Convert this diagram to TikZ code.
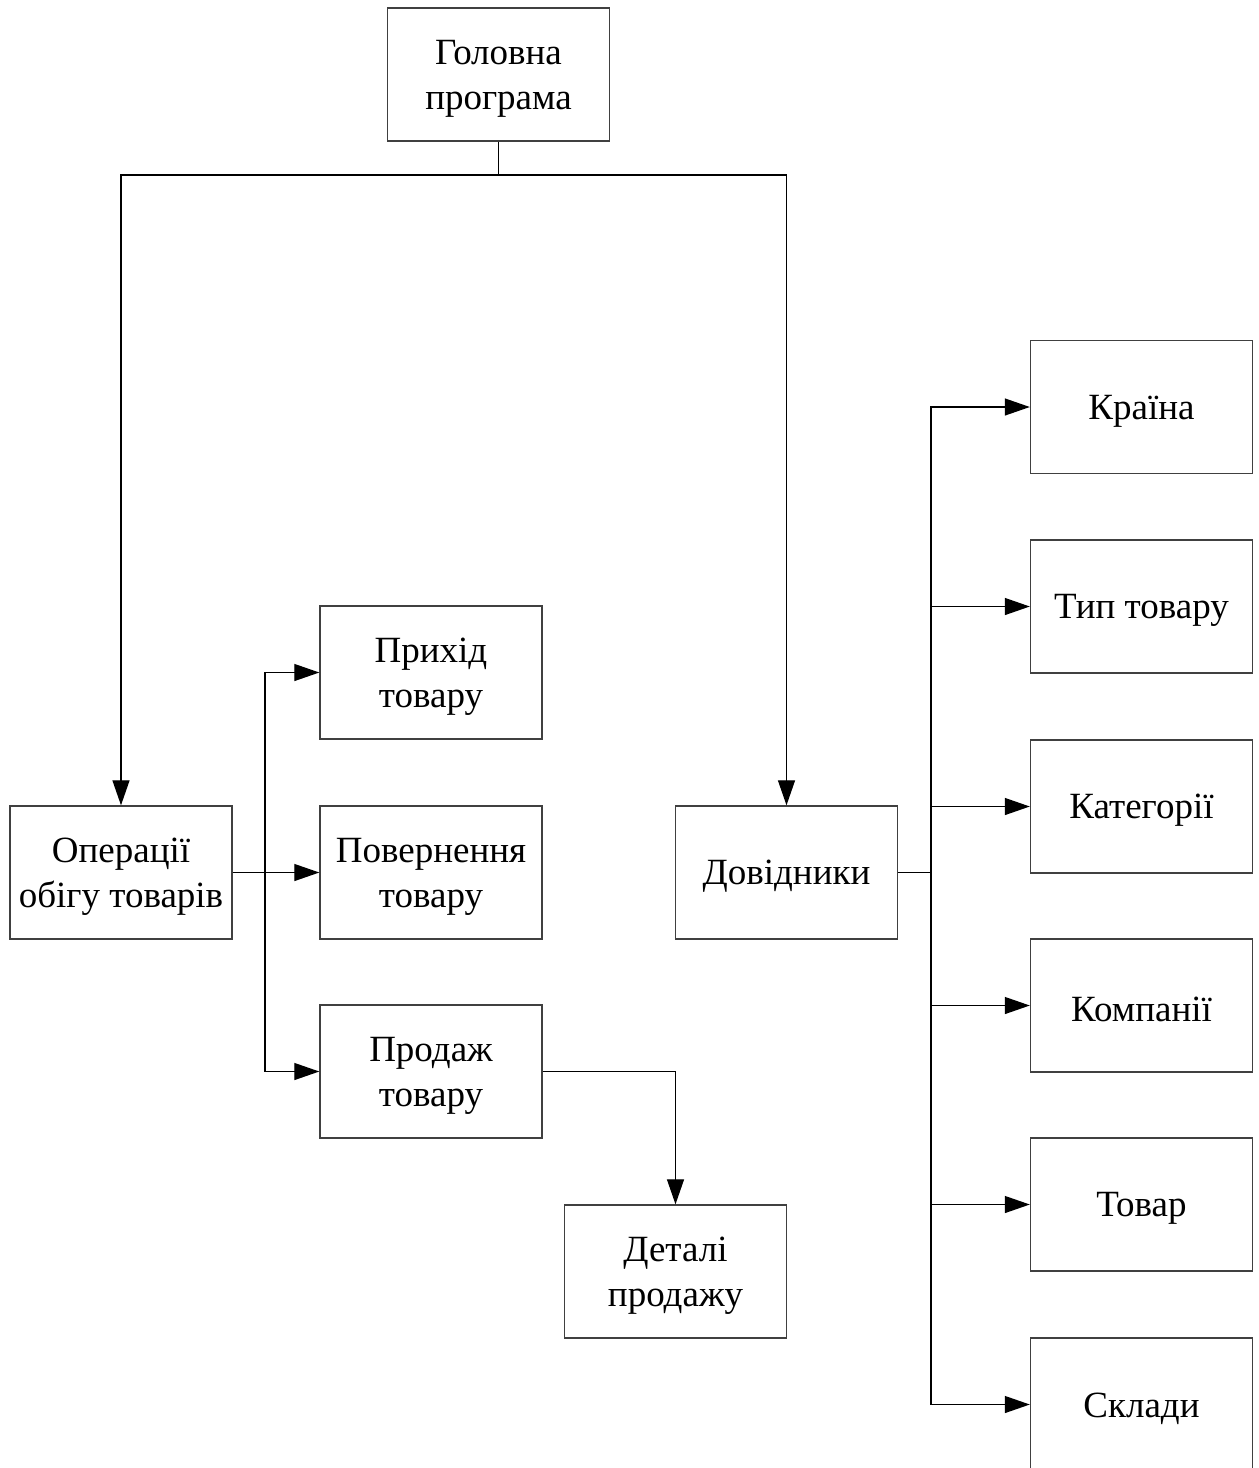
\documentclass[tikz,border=0pt]{standalone}
\usepackage{fontspec}
\setmainfont{Liberation Serif}
\usetikzlibrary{arrows.meta}
\begin{document}
\begin{tikzpicture}[x=1pt,y=-1pt,
  blk/.style={draw=black!75,line width=1.4pt,minimum width=222pt,minimum height=133pt,
    inner sep=0pt},
  txt/.style={align=center,inner sep=0pt,yshift=-4pt,font=\fontsize{37}{45}\selectfont},
  link/.style={line width=1.3pt,draw=black},
  arr/.style={link,-{Triangle[length=25pt,width=17pt]}}]
\useasboundingbox (0,0) rectangle (1259,1468);
\clip (0,0) rectangle (1259,1468);
\fill[white] (0,0) rectangle (1259,1468);

% top level
\node[blk,label={[txt]center:{Головна\\програма}}] (main) at (498.5,74.5) {};
% second level
\node[blk,label={[txt]center:{Операції\\обігу товарів}}] (ops) at (121,872.5) {};
\node[blk,label={[txt]center:{Довідники}}] (refs) at (786.5,872.5) {};
% operations
\node[blk,label={[txt]center:{Прихід\\товару}}] (inc) at (431,672.5) {};
\node[blk,label={[txt]center:{Повернення\\товару}}] (ret) at (431,872.5) {};
\node[blk,label={[txt]center:{Продаж\\товару}}] (sale) at (431,1071.5) {};
\node[blk,label={[txt]center:{Деталі\\продажу}}] (det) at (675.5,1271.5) {};
% reference books
\node[blk,label={[txt]center:{Країна}}] (c1) at (1141.5,407) {};
\node[blk,label={[txt]center:{Тип товару}}] (c2) at (1141.5,606.5) {};
\node[blk,label={[txt]center:{Категорії}}] (c3) at (1141.5,806.5) {};
\node[blk,label={[txt]center:{Компанії}}] (c4) at (1141.5,1005.5) {};
\node[blk,label={[txt]center:{Товар}}] (c5) at (1141.5,1204.5) {};
\node[blk,label={[txt]center:{Склади}}] (c6) at (1141.5,1404.5) {};

% main program branches
\coordinate (mj) at (498.5,175);
\draw[link] (main.south) -- (mj);
\draw[arr] (mj) -| (ops.north);
\draw[arr] (mj) -| (refs.north);

% operations bus
\coordinate (ob) at (265,872.5);
\draw[link] (ops.east) -- (ob);
\foreach \t in {inc,ret,sale}
  \draw[arr] (ob) |- (\t.west);

% sale to details
\draw[arr] (sale.east) -| (det.north);

% reference bus
\coordinate (rb) at (931,872.5);
\draw[link] (refs.east) -- (rb);
\foreach \t in {c1,c2,c3,c4,c5,c6}
  \draw[arr] (rb) |- (\t.west);
\end{tikzpicture}
\end{document}
